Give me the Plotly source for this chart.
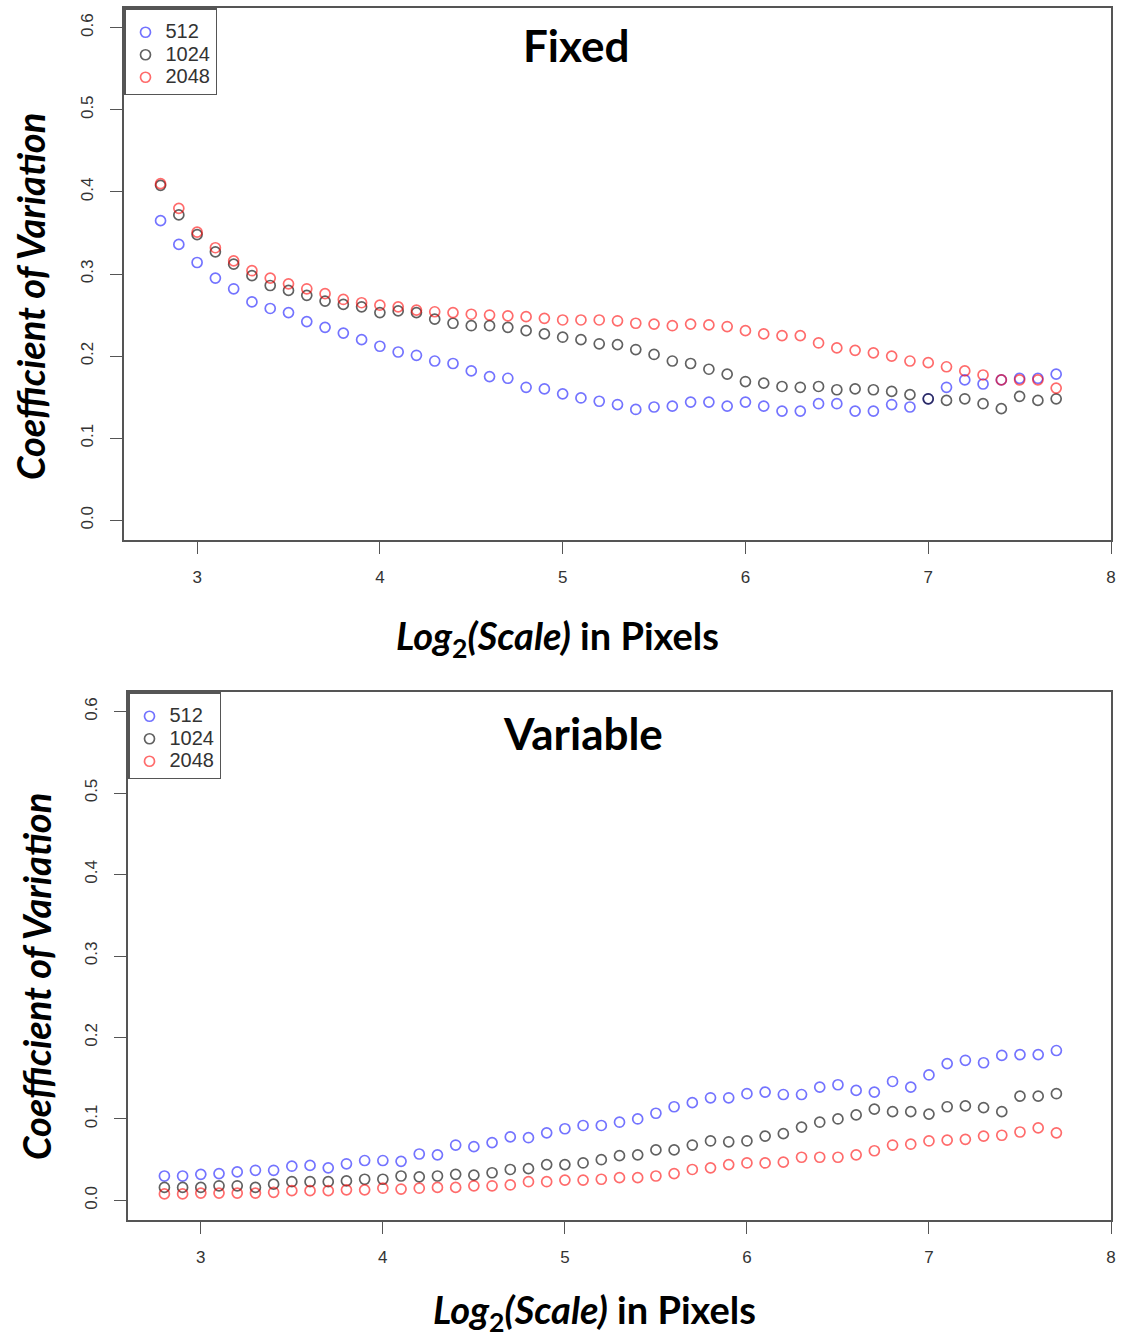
import plotly.graph_objects as go

W, H = 1122, 1341

scale_log2 = [round(2.8 + 0.1 * i, 1) for i in range(50)]
series_names = ["512", "1024", "2048"]

fixed_512 = [0.365, 0.336, 0.314, 0.295, 0.282, 0.266, 0.258, 0.253, 0.242, 0.235,
             0.228, 0.220, 0.212, 0.205, 0.201, 0.194, 0.191, 0.182, 0.175, 0.173,
             0.162, 0.160, 0.154, 0.149, 0.145, 0.141, 0.135, 0.138, 0.139, 0.144,
             0.144, 0.139, 0.144, 0.139, 0.133, 0.133, 0.142, 0.142, 0.133, 0.133,
             0.141, 0.138, 0.148, 0.162, 0.171, 0.166, 0.171, 0.173, 0.173, 0.178]
fixed_1024 = [0.408, 0.372, 0.348, 0.327, 0.312, 0.298, 0.286, 0.280, 0.274, 0.267,
              0.263, 0.260, 0.253, 0.255, 0.253, 0.245, 0.240, 0.237, 0.237, 0.235,
              0.231, 0.227, 0.223, 0.220, 0.215, 0.214, 0.208, 0.202, 0.194, 0.191,
              0.184, 0.178, 0.169, 0.167, 0.163, 0.162, 0.163, 0.159, 0.160, 0.159,
              0.157, 0.153, 0.148, 0.146, 0.148, 0.142, 0.136, 0.151, 0.146, 0.148]
fixed_2048 = [0.410, 0.380, 0.351, 0.332, 0.316, 0.304, 0.295, 0.288, 0.282, 0.276,
              0.269, 0.265, 0.262, 0.260, 0.256, 0.254, 0.253, 0.251, 0.250, 0.249,
              0.248, 0.246, 0.244, 0.244, 0.244, 0.243, 0.240, 0.239, 0.237, 0.239,
              0.238, 0.236, 0.231, 0.227, 0.225, 0.225, 0.216, 0.210, 0.207, 0.204,
              0.200, 0.194, 0.192, 0.187, 0.182, 0.177, 0.171, 0.171, 0.171, 0.161]

var_512 = [0.030, 0.030, 0.032, 0.033, 0.035, 0.037, 0.037, 0.042, 0.043, 0.040,
           0.045, 0.049, 0.049, 0.048, 0.057, 0.056, 0.068, 0.066, 0.071, 0.078,
           0.077, 0.083, 0.088, 0.092, 0.092, 0.096, 0.100, 0.107, 0.115, 0.120,
           0.126, 0.126, 0.131, 0.133, 0.130, 0.130, 0.139, 0.142, 0.135, 0.133,
           0.146, 0.139, 0.154, 0.168, 0.172, 0.169, 0.178, 0.179, 0.179, 0.184]
var_1024 = [0.016, 0.016, 0.016, 0.018, 0.018, 0.016, 0.020, 0.023, 0.023, 0.023,
            0.024, 0.026, 0.026, 0.030, 0.029, 0.030, 0.032, 0.031, 0.034, 0.038,
            0.039, 0.044, 0.044, 0.046, 0.050, 0.055, 0.056, 0.062, 0.062, 0.068,
            0.073, 0.072, 0.073, 0.079, 0.082, 0.090, 0.096, 0.100, 0.105, 0.112,
            0.109, 0.109, 0.106, 0.115, 0.116, 0.114, 0.109, 0.128, 0.128, 0.131]
var_2048 = [0.008, 0.008, 0.009, 0.009, 0.009, 0.009, 0.010, 0.012, 0.012, 0.012,
            0.013, 0.013, 0.015, 0.014, 0.015, 0.016, 0.016, 0.018, 0.018, 0.019,
            0.023, 0.023, 0.025, 0.025, 0.026, 0.028, 0.028, 0.030, 0.033, 0.038,
            0.040, 0.044, 0.046, 0.046, 0.047, 0.053, 0.053, 0.053, 0.056, 0.061,
            0.068, 0.069, 0.073, 0.074, 0.075, 0.079, 0.080, 0.084, 0.089, 0.083]

x_ticks = [3, 4, 5, 6, 7, 8]
y_ticks = [0.0, 0.1, 0.2, 0.3, 0.4, 0.5, 0.6]
y_tick_labels = ["0.0", "0.1", "0.2", "0.3", "0.4", "0.5", "0.6"]

colors = ["rgba(0,0,255,0.55)", "rgba(0,0,0,0.62)", "rgba(255,0,0,0.58)"]

fig = go.Figure()

panels = [
    dict(data=[fixed_512, fixed_1024, fixed_2048], xa="x", ya="y", legend="legend"),
    dict(data=[var_512, var_1024, var_2048], xa="x2", ya="y2", legend="legend2"),
]
for p in panels:
    for name, vals, col in zip(series_names, p["data"], colors):
        fig.add_trace(go.Scatter(
            x=scale_log2, y=vals, mode="markers",
            name='<span style="font-size:20px">' + name + '</span>',
            xaxis=p["xa"], yaxis=p["ya"], legend=p["legend"],
            marker=dict(symbol="circle-open", size=10, color=col,
                        line=dict(width=1.7, color=col)),
            hoverinfo="skip",
        ))

def px(x):
    return x / W

def py(y):
    return 1 - y / H

axis_common = dict(showgrid=False, zeroline=False, showline=True, mirror=True,
                   linecolor="#555555", linewidth=1.6, ticks="outside",
                   tickcolor="#555555", tickwidth=1.3, ticklen=12, automargin=False,
                   tickfont=dict(family="Liberation Sans, Arial", size=17, color="#333333"))

xa = dict(axis_common, range=[2.6, 8.0], tickvals=x_ticks, ticktext=[str(t) for t in x_ticks],
          ticklabelstandoff=9)
ya = dict(axis_common, range=[-0.024, 0.624], tickvals=y_ticks, ticktext=y_tick_labels,
          tickangle=-90, ticklabelstandoff=10)

legend_common = dict(xanchor="left", yanchor="top",
                     bordercolor="#555555", borderwidth=1.5, bgcolor="white",
                     font=dict(family="Liberation Sans, Arial", size=15, color="#333333"),
                     title=dict(text=" ", font=dict(size=5)),
                     tracegroupgap=0, itemwidth=30)

fig.update_layout(
    width=W, height=H, margin=dict(l=0, r=0, t=0, b=0, autoexpand=False),
    paper_bgcolor="white", plot_bgcolor="white",
    xaxis=dict(xa, domain=[px(124), px(1111)], anchor="y"),
    yaxis=dict(ya, domain=[py(540), py(8)], anchor="x"),
    xaxis2=dict(xa, domain=[px(128), px(1111)], anchor="y2"),
    yaxis2=dict(ya, domain=[py(1220), py(692)], anchor="x2"),
    legend=dict(legend_common, x=px(124), y=py(8)),
    legend2=dict(legend_common, x=px(128), y=py(692)),
    showlegend=True,
)

title_font = dict(family="Lato, Open Sans, sans-serif", size=44, color="black")
label_font = dict(family="Lato, Open Sans, sans-serif", size=38, color="black")

annotations = [
    dict(text="<b>Fixed</b>", x=px(576), y=py(45), font=title_font),
    dict(text="<b>Variable</b>", x=px(583), y=py(733), font=title_font),
    dict(text="<b><i>Coefficient of Variation</i></b>", x=px(30), y=py(297),
         textangle=-90, font=label_font),
    dict(text="<b><i>Coefficient of Variation</i></b>", x=px(36), y=py(977),
         textangle=-90, font=label_font),
    dict(text="<b><i>Log</i><sub>2</sub><i>(Scale)</i> in Pixels</b>", x=px(557), y=py(638),
         font=label_font),
    dict(text="<b><i>Log</i><sub>2</sub><i>(Scale)</i> in Pixels</b>", x=px(594), y=py(1312),
         font=label_font),
]
for a in annotations:
    a.update(xref="paper", yref="paper", showarrow=False, xanchor="center", yanchor="middle")
fig.update_layout(annotations=annotations)

fig.write_html("out.html")
